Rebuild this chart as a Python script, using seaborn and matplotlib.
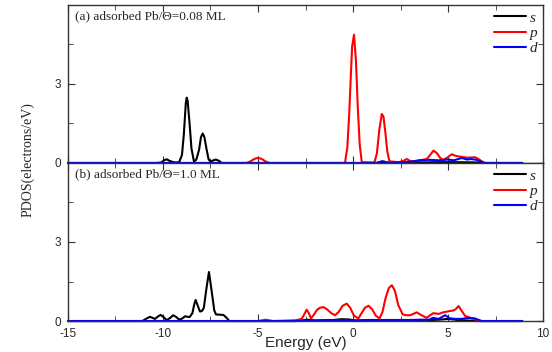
"""
PDOS of adsorbed Pb (s, p, d) for two coverages, stacked panels.
"""

import pandas as pd
import matplotlib
matplotlib.use("Agg")
import matplotlib.pyplot as plt
from matplotlib.ticker import MultipleLocator
from matplotlib.font_manager import FontProperties
import seaborn as sns

# === data (energy in eV, PDOS in electrons/eV) ===
# (a) Theta = 0.08 ML
a_s_energy = [-15, -10.3, -10.07, -9.95, -9.8, -9.65, -9.46, -9.3, -9.15, -9.0,
              -8.9, -8.8, -8.75, -8.7, -8.6, -8.5, -8.37, -8.25, -8.1, -8.0,
              -7.91, -7.82, -7.7, -7.6, -7.5, -7.35, -7.21, -7.05, -6.91, 1.3,
              1.5, 1.7, 3.5, 4.5, 5.5, 6.5, 6.9, 8.9]
a_s_pdos = [0, 0, 0.02, 0.1, 0.14, 0.08, 0.03, 0.02, 0.03, 0.3,
            1.1, 2.25, 2.48, 2.35, 1.5, 0.55, 0.06, 0.12, 0.5, 0.98,
            1.12, 0.98, 0.5, 0.14, 0.05, 0.1, 0.13, 0.08, 0.0, 0.0,
            0.04, 0.0, 0.02, 0.03, 0.03, 0.02, 0.0, 0.0]

a_p_energy = [-15, -5.6, -5.4, -5.2, -5.0, -4.8, -4.6, -4.4, -0.5, -0.42,
              -0.3, -0.2, -0.1, -0.05, 0.05, 0.15, 0.25, 0.35, 0.46, 1.12,
              1.25, 1.38, 1.51, 1.6, 1.7, 1.8, 1.91, 2.1, 2.4, 2.65,
              2.82, 3.0, 3.18, 3.5, 3.88, 4.05, 4.23, 4.4, 4.6, 4.75,
              4.95, 5.19, 5.4, 5.55, 6.0, 6.42, 6.6, 6.8, 6.95, 8.9]
a_p_pdos = [0, 0, 0.06, 0.15, 0.2, 0.15, 0.06, 0, 0, 0.02,
            0.6, 1.9, 3.6, 4.42, 4.87, 3.9, 2.1, 0.7, 0.03, 0.02,
            0.35, 1.25, 1.86, 1.76, 1.15, 0.45, 0.06, 0.05, 0.03, 0.08,
            0.15, 0.08, 0.05, 0.1, 0.15, 0.3, 0.47, 0.38, 0.18, 0.12,
            0.2, 0.33, 0.27, 0.25, 0.2, 0.22, 0.15, 0.05, 0.0, 0.0]

a_d_energy = [-15, 1.2, 1.4, 1.55, 1.7, 1.9, 2.5, 3.0, 3.5, 4.0,
              4.5, 5.0, 5.3, 5.72, 6.0, 6.2, 6.5, 6.9, 8.9]
a_d_pdos = [0, 0, 0.04, 0.07, 0.04, 0.01, 0.02, 0.05, 0.1, 0.12,
            0.1, 0.13, 0.1, 0.19, 0.13, 0.15, 0.12, 0, 0]

# (b) Theta = 1.0 ML
b_s_energy = [-15, -11.1, -11.03, -10.85, -10.68, -10.55, -10.42, -10.25, -10.12, -9.97,
              -9.8, -9.62, -9.46, -9.3, -9.14, -8.98, -8.84, -8.7, -8.6, -8.45,
              -8.35, -8.28, -8.18, -8.05, -7.95, -7.85, -7.7, -7.58, -7.45, -7.3,
              -7.21, -7.0, -6.82, -6.65, -6.51, -3.0, -2.6, -2.4, -2.0, -1.0,
              -0.6, -0.2, 0.2, 3.5, 4.5, 5.0, 5.5, 6.5, 8.9]
b_s_pdos = [0, 0, 0.02, 0.1, 0.16, 0.12, 0.08, 0.18, 0.23, 0.15,
            0.03, 0.12, 0.22, 0.15, 0.05, 0.1, 0.18, 0.16, 0.15, 0.3,
            0.65, 0.8, 0.6, 0.36, 0.38, 0.5, 1.3, 1.86, 1.2, 0.4,
            0.25, 0.24, 0.23, 0.12, 0.0, 0, 0.03, 0.05, 0.02, 0.04,
            0.07, 0.06, 0.0, 0.02, 0.05, 0.08, 0.04, 0.0, 0.0]

b_p_energy = [-15, -5.0, -4.6, -4.2, -3.3, -3.0, -2.7, -2.55, -2.44, -2.33,
              -2.21, -2.05, -1.9, -1.75, -1.56, -1.38, -1.15, -0.95, -0.75, -0.55,
              -0.33, -0.15, 0.05, 0.28, 0.45, 0.62, 0.81, 1.0, 1.2, 1.39,
              1.55, 1.72, 1.88, 2.04, 2.2, 2.38, 2.61, 2.8, 3.0, 3.2,
              3.35, 3.6, 3.88, 4.05, 4.23, 4.5, 4.75, 5.1, 5.28, 5.4,
              5.55, 5.7, 5.9, 6.25, 6.5, 6.7, 8.9]
b_p_pdos = [0, 0, 0.05, 0, 0.02, 0.03, 0.08, 0.28, 0.43, 0.3,
            0.1, 0.25, 0.42, 0.5, 0.53, 0.45, 0.3, 0.22, 0.35, 0.58,
            0.66, 0.5, 0.2, 0.1, 0.3, 0.5, 0.58, 0.45, 0.2, 0.1,
            0.35, 0.9, 1.25, 1.36, 1.15, 0.6, 0.25, 0.22, 0.22, 0.28,
            0.33, 0.22, 0.12, 0.22, 0.3, 0.27, 0.33, 0.38, 0.4, 0.45,
            0.57, 0.4, 0.19, 0.1, 0.05, 0.0, 0.0]

b_d_energy = [-15, -3.0, -2.0, -1.0, 0.0, 1.0, 2.0, 3.0, 3.5, 4.0,
              4.2, 4.5, 4.84, 5.1, 5.4, 5.7, 6.07, 6.4, 6.77, 8.9]
b_d_pdos = [0, 0.0, 0.02, 0.03, 0.03, 0.04, 0.04, 0.04, 0.05, 0.05,
            0.12, 0.08, 0.22, 0.1, 0.08, 0.08, 0.12, 0.1, 0.0, 0]

orbitals = ["s", "p", "d"]
colors = {"s": "#000000", "p": "#ff0000", "d": "#0000ff"}
panel_titles = ["(a) adsorbed Pb/\u0398=0.08 ML", "(b) adsorbed Pb/\u0398=1.0 ML"]


def long_frame(series):
    parts = []
    for orb, (e, v) in zip(orbitals, series):
        parts.append(pd.DataFrame({"energy": e, "pdos": v, "orbital": orb}))
    return pd.concat(parts, ignore_index=True)


panels = [
    long_frame([(a_s_energy, a_s_pdos), (a_p_energy, a_p_pdos), (a_d_energy, a_d_pdos)]),
    long_frame([(b_s_energy, b_s_pdos), (b_p_energy, b_p_pdos), (b_d_energy, b_d_pdos)]),
]

# === style ===
sns.set_style("ticks")
plt.rcParams["font.family"] = ["Liberation Sans", "DejaVu Sans"]
plt.rcParams["axes.unicode_minus"] = False
serif = ["Liberation Serif", "DejaVu Serif"]

fig = plt.figure(figsize=(5.52, 3.52), dpi=100)
ax_top = fig.add_axes([0.123, 0.537, 0.861, 0.449])
ax_bot = fig.add_axes([0.123, 0.088, 0.861, 0.449])

for ax, df, title in zip([ax_top, ax_bot], panels, panel_titles):
    sns.lineplot(
        data=df, x="energy", y="pdos", hue="orbital", hue_order=orbitals,
        palette=colors, estimator=None, sort=False, linewidth=1.5,
        legend=False, ax=ax,
    )
    for ln in ax.get_lines():
        ln.set_clip_on(False)

    ax.set_xlim(-15, 10)
    ax.set_ylim(0, 6)
    ax.xaxis.set_major_locator(MultipleLocator(5))
    ax.xaxis.set_minor_locator(MultipleLocator(2.5))
    ax.set_yticks([0, 3])
    ax.yaxis.set_minor_locator(MultipleLocator(1.5))
    ax.tick_params(which="both", direction="in", top=True, right=True,
                   labelsize=8.5, pad=5, color="#333333")
    ax.tick_params(which="major", length=5)
    ax.tick_params(which="minor", length=3.5)
    for sp in ax.spines.values():
        sp.set_visible(True)
        sp.set_color("#333333")
        sp.set_linewidth(1.0)
    ax.set_xlabel("")
    ax.set_ylabel("")

    ax.text(0.015, 0.965, title, transform=ax.transAxes, ha="left", va="top",
            fontsize=9.5, family=serif)

    handles = [plt.Line2D([], [], color=colors[o], lw=1.5) for o in orbitals]
    ax.legend(handles, orbitals, loc="upper right", frameon=False,
              prop=FontProperties(family=serif, style="italic", size=11),
              handlelength=2.1, handletextpad=0.2, labelspacing=0.1,
              borderaxespad=0.1, borderpad=0.3)

ax_top.tick_params(labelbottom=False)
ax_bot.set_xlabel("Energy (eV)", fontsize=11, labelpad=-3)
fig.text(28 / 552, 1 - 160 / 352, "PDOS(electrons/eV)", rotation=90,
         ha="center", va="center", fontsize=10, family=serif)

fig.savefig("out.png", dpi=100)
